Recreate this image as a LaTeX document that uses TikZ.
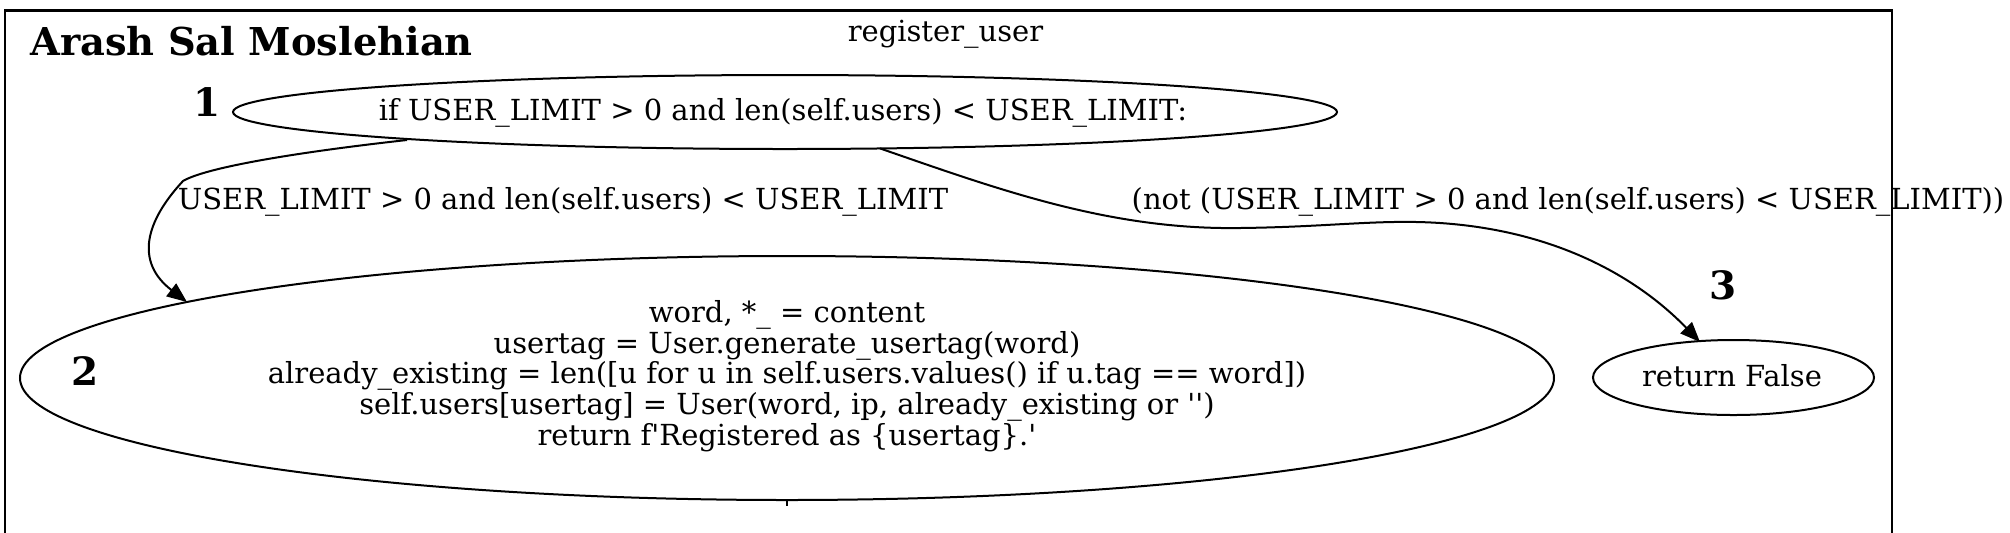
\documentclass[tikz,border=0pt]{standalone}
\usepackage{fontspec}
\setmainfont{DejaVu Serif}[Ligatures=TeXOff]
\usetikzlibrary{shapes.geometric,arrows.meta}
\begin{document}
\begin{tikzpicture}[x=0.5pt,y=-0.5pt,
  oval/.style={ellipse, draw, line width=1pt, inner sep=0pt},
  codetext/.style={font=\fontsize{14.5}{15.375}\selectfont, inner sep=0pt},
  numlabel/.style={font=\fontsize{19.5}{24}\selectfont\bfseries, inner sep=0pt},
  titletext/.style={font=\fontsize{19.2}{24}\selectfont\bfseries, inner sep=0pt},
  flow/.style={draw, line width=1pt, -{Triangle[length=10pt,width=8pt]}},
  frameline/.style={draw, line width=1.3pt}
]
\useasboundingbox (0,0) rectangle (2010,532);
\clip (0,0) rectangle (2010,532);
\draw[frameline] (5,545) -- (5,10.5) -- (1892,10.5) -- (1892,545);

\node[titletext, anchor=base west] (title) at (30,55) {Arash Sal Moslehian};
\node[codetext, anchor=base] (fname) at (945.5,41) {register\_user};

\node[oval, minimum width=552pt, minimum height=37pt] (n1) at (785,112) {};
\node[codetext, anchor=base] (t1) at (783,120) {if USER\_LIMIT > 0 and len(self.users) < USER\_LIMIT:};

\node[oval, minimum width=767pt, minimum height=122pt] (n2) at (787,378) {};
\node[codetext, align=center] (t2) at (787,376) {word, *\_ = content\\usertag = User.generate\_usertag(word)\\already\_existing = len([u for u in self.users.values() if u.tag == word])\\self.users[usertag] = User(word, ip, already\_existing or '')\\return f'Registered as \{usertag\}.'};

\node[oval, minimum width=140.5pt, minimum height=37.5pt] (n3) at (1733.5,377.5) {};
\node[codetext, anchor=base] (t3) at (1732,386) {return False};

\node[numlabel] (l1) at (207,102) {1};
\node[numlabel] (l2) at (85,371) {2};
\node[numlabel] (l3) at (1723,285) {3};

\node[codetext, anchor=base] (e1) at (563,209) {USER\_LIMIT > 0 and len(self.users) < USER\_LIMIT};
\node[codetext, anchor=base] (e2) at (1568,209) {(not (USER\_LIMIT > 0 and len(self.users) < USER\_LIMIT))};

% attachment points on the ellipse borders
\path (n1.center) ++(-378,28) coordinate (n1out2);
\path (n1.center) ++(95,36.4) coordinate (n1out3);
\path (n2.center) ++(-600,-76) coordinate (n2in);
\path (n3.center) ++(-33.5,-35.5) coordinate (n3in);

\draw[flow] (n1out2) .. controls (290,153) and (205,168) .. (183,181) .. controls (145,222) and (135,262) .. (n2in);
\draw[flow] (n1out3) .. controls (1000,190) and (1110,230) .. (1240,228) .. controls (1330,227) and (1380,219) .. (1440,223) .. controls (1560,231) and (1640,280) .. (n3in);

\draw[line width=1pt] (n2.south) -- ++(0,5);
\end{tikzpicture}
\end{document}
